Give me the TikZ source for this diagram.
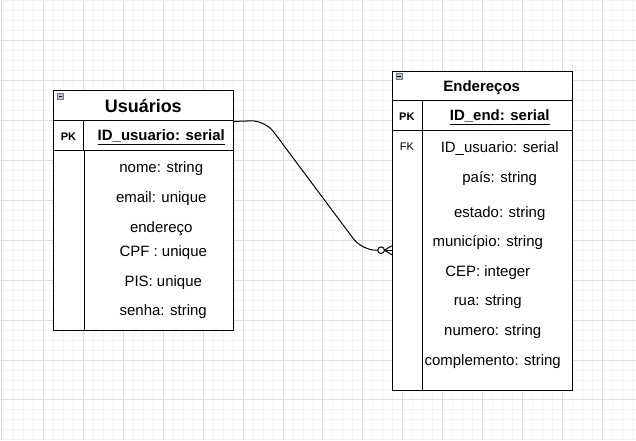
\documentclass[tikz,border=0pt]{standalone}
\usepackage{fontspec}
\setmainfont{Liberation Sans}
\usepackage{xcolor}
\definecolor{GridMinor}{HTML}{F4F4F4}
\definecolor{GridMajor}{HTML}{DDDDDD}
\definecolor{IconGray}{HTML}{B8C0CC}
\definecolor{IconEdge}{HTML}{6D7785}

\begin{document}
\begin{tikzpicture}[x=1pt, y=-1pt,
    tbl/.style={draw, line width=1pt, inner sep=0pt, anchor=north west},
    field/.style={font=\fontsize{15}{18}\selectfont, inner sep=0pt},
    keytag/.style={font=\fontsize{11}{13}\selectfont, inner sep=0pt},
    title/.style={font=\fontsize{15}{18}\selectfont\bfseries, inner sep=0pt},
    rel/.style={line width=1pt}]
    % background grid
    \fill[white] (0,0) rectangle (636,440);
    \foreach \x in {3,13,...,633} {
        \draw[GridMinor, line width=1pt] (\x,0) -- (\x,440);
    }
    \foreach \y in {0,10,...,440} {
        \draw[GridMinor, line width=1pt] (0,\y) -- (636,\y);
    }
    \foreach \x in {43,83,...,603} {
        \draw[GridMajor, line width=1pt] (\x,0) -- (\x,440);
    }
    \foreach \y in {40,80,...,400} {
        \draw[GridMajor, line width=1pt] (0,\y) -- (636,\y);
    }
    \draw[GridMajor, line width=1.2pt] (1,0) -- (1,440);

    % table Usuarios
    \node[tbl, fill=white, minimum width=180pt, minimum height=240pt] (usr) at (53,90) {};
    \node[tbl, minimum width=180pt, minimum height=30pt] (usrHead) at (53,90) {};
    \node[tbl, minimum width=30pt, minimum height=30pt] (usrPk) at (53,120) {};
    \node[tbl, minimum width=150pt, minimum height=30pt] (usrId) at (83,120) {};
    \draw[line width=1pt] (usrPk.south east) -- (usrPk.south east |- usr.south);
    \draw[IconEdge, fill=IconGray] (57,93) rectangle (63,99);
    \draw[black, line width=0.8pt] (58.3,96) -- (61.7,96);
    \node[title, font=\fontsize{18}{21}\selectfont\bfseries] (usrName) at (143,106) {Usuários};
    \node[keytag, font=\fontsize{11}{13}\selectfont\bfseries] (usrPkTag) at (68,136) {PK};
    \node[title] (usrIdTxt) at (161,137) {\underline{ID\_usuario: serial}};
    \node[field] (usrNome) at (161,168) {nome: string};
    \node[field] (usrEmail) at (161,198) {email: unique};
    \node[field] (usrEnd) at (161,228) {endereço};
    \node[field] (usrCpf) at (163,252) {CPF : unique};
    \node[field] (usrPis) at (163,282) {PIS: unique};
    \node[field] (usrSenha) at (163,312) {senha: string};

    % table Enderecos
    \node[tbl, fill=white, minimum width=180pt, minimum height=319pt] (ends) at (392,71) {};
    \node[tbl, minimum width=180pt, minimum height=29pt] (endHead) at (392,71) {};
    \node[tbl, minimum width=30pt, minimum height=30pt] (endPk) at (392,100) {};
    \node[tbl, minimum width=150pt, minimum height=30pt] (endId) at (422,100) {};
    \draw[line width=1pt] (endPk.south east) -- (endPk.south east |- ends.south);
    \draw[IconEdge, fill=IconGray] (396,73) rectangle (402,79);
    \draw[black, line width=0.8pt] (397.3,76) -- (400.7,76);
    \node[title] (endName) at (482,87) {Endereços};
    \node[keytag, font=\fontsize{11}{13}\selectfont\bfseries] (endPkTag) at (407,116) {PK};
    \node[title] (endIdTxt) at (500,117) {\underline{ID\_end: serial}};
    \node[keytag] (endFkTag) at (407,146) {FK};
    \node[field] (endUsr) at (500,148) {ID\_usuario: serial};
    \node[field] (endPais) at (500,178) {país: string};
    \node[field] (endEstado) at (500,213) {estado: string};
    \node[field] (endMun) at (488,242) {município: string};
    \node[field] (endCep) at (488,272) {CEP: integer};
    \node[field] (endRua) at (488,302) {rua: string};
    \node[field] (endNum) at (493,332) {numero: string};
    \node[field] (endComp) at (493,362) {complemento: string};

    % relation usuario -> enderecos (zero or many)
    \coordinate (fkEnd) at (392,250);
    \draw[rel, rounded corners=14pt] (usrHead.south east) -- (265,120) -- (362,250) -- (378,250);
    \draw[rel] (fkEnd) -- (384.5,250);
    \draw[rel, fill=white] (381.2,250) circle (3.3);
    \draw[rel] (384.5,250) -- (392,245.5);
    \draw[rel] (384.5,250) -- (392,254.5);
\end{tikzpicture}
\end{document}
